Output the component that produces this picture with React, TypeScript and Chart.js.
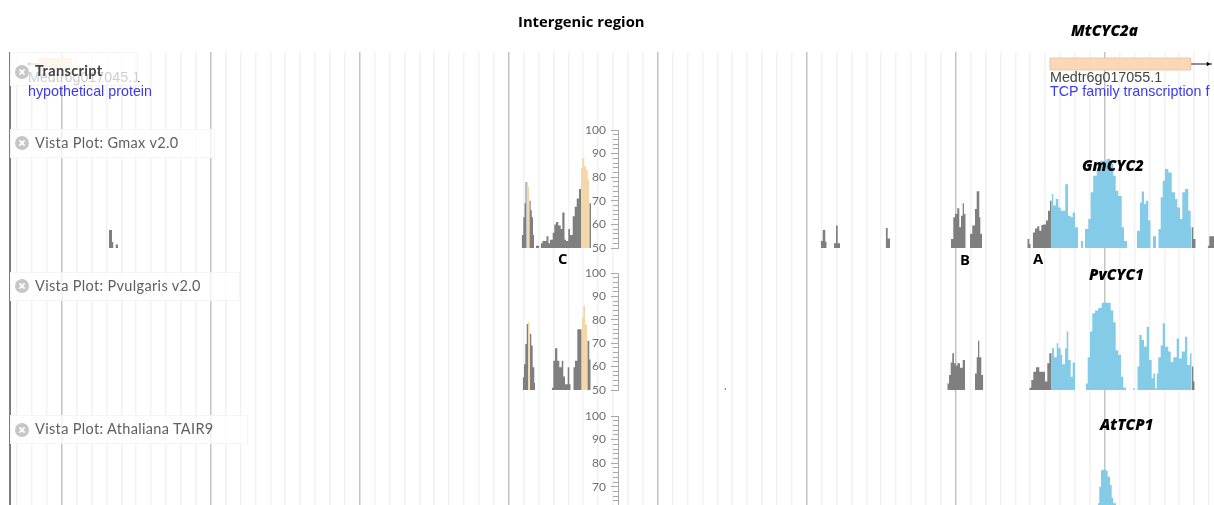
import React, { useEffect, useRef } from "react";
import { Chart, registerables, LinearScale } from "chart.js";

// ---------- data (alignment position, conservation %) ----------
// every run: x, value, x, value, ... , x of the run's end
const gmaxGrey: number[][] = [
  [109, 57.6, 112, 52.5, 113.5],
  [115.5, 51.5, 118],
  [521.7, 55.5, 523.3, 63, 524.5, 69, 525.5, 78, 526.7],
  [529.3, 70, 530.7, 66, 531.8, 63, 533, 55.5, 534],
  [536, 51, 539.3],
  [540.7, 52, 542.5, 53, 544.5, 53, 546.5, 55, 548.5, 52, 550, 53.5, 552.7, 56.5, 554.3, 60, 556, 61, 558.3, 59.5, 560.7, 58, 562.3, 65, 564.5, 53.5, 566, 53, 568.3, 58, 570, 55.5, 572.7, 63.5, 574.7, 67.5, 576.7, 71, 579, 75, 581],
  [589.3, 69, 591],
  [820.7, 53, 822.7, 57.6, 825.3, 52.7, 826.7],
  [834, 52, 836, 59.5, 837.7, 52, 840],
  [885.7, 58.5, 887.7, 54, 890],
  [951, 53.8, 953.3, 63, 955, 64.4, 957.3, 66.8, 959.3, 58.8, 961, 63.7, 962.7, 69, 964, 64.4, 965.7],
  [970, 56, 972.3, 59.5, 975, 66.5, 976.7, 74, 979.3, 63, 980.3, 56, 982],
  [1027.3, 53.8, 1029.3, 51.7, 1030.7],
  [1032.7, 56.6, 1035, 58.3, 1037.3, 59.2, 1039.3, 57.3, 1041.3, 59.7, 1043.3, 60, 1046, 61.6, 1048, 65.8, 1050, 70, 1051.7],
  [1191.7, 58.8, 1193.3, 53.8, 1195.7],
  [1207.7, 51, 1209.3, 55, 1214],
];
const gmaxPeach: number[][] = [
  [526.7, 78, 528, 76, 529.3],
  [581, 84, 582.3, 88, 584.3, 84.5, 586, 83, 587.7, 79, 589.3],
];
const gmaxBlue: number[][] = [
  [1051.7, 72.9, 1053.3, 68, 1055.7, 70.8, 1058.3, 67.2, 1060.7, 65.8, 1063.3, 65.8, 1065.3, 77, 1068, 63.7, 1070.7, 63, 1072.7, 65, 1075, 58.8, 1078],
  [1081, 53, 1083.3],
  [1085, 58, 1088.3, 62.3, 1090.7, 73.6, 1093.3, 80.6, 1096.7, 84, 1100, 87, 1106.7, 87.7, 1110, 85.6, 1113.3, 80.6, 1115.7, 74.3, 1118.3, 72, 1121.7, 58.8, 1124, 53, 1127.3],
  [1137, 57.3, 1140, 69.3, 1141.7, 73.9, 1144, 68.6, 1146, 70, 1148.3, 61.6, 1150.7],
  [1152.7, 55, 1156],
  [1158.3, 58, 1160.7, 71.5, 1162.7, 78.5, 1165, 83.5, 1168.3, 82, 1171.7, 73.6, 1175, 70.8, 1177.3, 67.2, 1180, 62.3, 1182.3, 73.6, 1185, 75, 1188.3, 65.8, 1190.7, 58.8, 1191.7],
];
const pvulGrey: number[][] = [
  [522.7, 55.4, 524, 61, 525.3, 69.7, 526.7, 78.2, 528],
  [529.7, 74, 531.3, 69, 532.7, 59.7, 534.3, 53, 535],
  [551.7, 51, 553.3, 62.5, 555, 67.8, 557.3, 62.5, 559.3, 59.7, 561.7, 62.5, 563.3, 55.8, 565, 52.5, 567.7, 59.7, 569.3, 52.5, 570.7],
  [573.3, 59.7, 575, 62.5, 577.3, 76, 581.7],
  [587.3, 71, 589.3, 63, 590.7],
  [724.5, 50.8, 726],
  [947.3, 52.8, 949, 56.4, 950.7, 61.8, 952.3, 65.7, 954, 61.4, 955.7, 60.4, 957.3, 61.4, 960, 59.5, 962.7, 62.8, 965],
  [975, 57, 976.7, 64, 978, 71, 979.3, 64, 981.3, 56.4, 983.3],
  [1029.3, 51, 1031.3, 54.3, 1033.3, 57.8, 1036, 59.7, 1039.3, 57.8, 1045, 53.6, 1047.3, 61.4, 1049.3, 65.7, 1051.7],
  [1191.7, 60, 1193.3, 53.6, 1194.7],
];
const pvulPeach: number[][] = [
  [528, 79, 529.7],
  [581.7, 81, 583.3, 86, 585, 78, 587.3],
];
const pvulBlue: number[][] = [
  [1051.7, 67.8, 1054, 64, 1056.7, 70, 1058.3, 67.8, 1060.7, 65, 1062.3, 61, 1065, 67.8, 1066.7, 75, 1068.3, 62.8, 1070.7, 55.7, 1072.7, 61.8, 1075.3],
  [1085.7, 52.8, 1087.7, 64, 1090, 75, 1092.3, 82.8, 1095, 84, 1098.3, 85, 1101.7, 87.3, 1110.7, 84, 1113.3, 79, 1115.7, 67, 1118.3, 65, 1121, 55.7, 1123.3, 51, 1126],
  [1132.7, 50.7, 1134.7],
  [1137.3, 60, 1139.3, 73.5, 1141.7, 71.4, 1144, 68.5, 1146.7, 77, 1149, 62.8, 1151.7, 55, 1153.3, 57, 1155, 50.7, 1156.7, 57, 1158.3, 64, 1160.7, 69, 1162.7, 78.5, 1165, 68.5, 1168.3, 66.4, 1170.7, 62, 1173.3, 64, 1176.7, 72, 1179, 63.5, 1181.7, 66.4, 1185, 72.8, 1187.3, 60.7, 1190, 65.7, 1191.7],
];
const athaBlue: number[][] = [
  [1097.7, 63, 1099.3, 70, 1101, 77, 1103.3, 77.4, 1105.7, 76.8, 1107.7, 74.3, 1110, 70.8, 1111.7, 65.3, 1113.3, 63, 1116],
];
// gene models: start, end on the transcript track
const genePrev = [38, 72];
const geneCyc2 = [1050, 1190.6];
const geneArrowPrev = [38, 29];
const geneArrowCyc2 = [1191, 1208, 1212];

const conservationMin = 50;
const conservationMax = 100;

// text
const titleText = "Intergenic region";
const panelLabels = ["Vista Plot: Gmax v2.0", "Vista Plot: Pvulgaris v2.0", "Vista Plot: Athaliana TAIR9"];
const geneLabels = ["MtCYC2a", "GmCYC2", "PvCYC1", "AtTCP1"];
const regionLabels = ["A", "B", "C"];

// ---------- helpers ----------
const toPoints = (runs: number[][]) => {
  const out: { x: number; y: number | null }[] = [];
  for (const r of runs) {
    let last = 0;
    for (let i = 0; i + 1 < r.length; i += 2) {
      out.push({ x: r[i], y: r[i + 1] });
      last = r[i + 1];
    }
    const end = r[r.length - 1];
    out.push({ x: end, y: last });
    out.push({ x: end, y: null });
  }
  return out;
};

class PanelScale extends (LinearScale as any) {
  static id = "panel";
  static defaults = (LinearScale as any).defaults;
  configure() {
    const o = (this as any).options;
    const self = this as any;
    self.top = o.panelTop;
    self.bottom = o.panelBottom;
    self.height = o.panelBottom - o.panelTop;
    self.right = o.panelRight;
    self.left = o.panelRight - 40;
    self.width = 40;
    super.configure();
  }
}

Chart.register(...registerables, PanelScale as any);

const GREY = "#7f7f7f";
const PEACH = "#f3d7aa";
const BLUE = "#84cbe8";
const AXIS = "#a9a9a9";

const noRoom = (s: any) => {
  s.width = 0;
  s.paddingTop = 0;
  s.paddingBottom = 0;
};

const fillSeries = (data: any[], color: string, yAxisID: string) => ({
  type: "line",
  data,
  yAxisID,
  xAxisID: "x",
  stepped: true,
  spanGaps: false,
  borderWidth: 0,
  pointRadius: 0,
  backgroundColor: color,
  borderColor: color,
  fill: { value: conservationMin },
});

const majorAxis = (panelTop: number, panelBottom: number) => ({
  type: "panel",
  position: "left",
  panelTop,
  panelBottom,
  panelRight: 618,
  min: conservationMin,
  max: conservationMax,
  afterFit: noRoom,
  grid: { drawOnChartArea: false, tickLength: 7, color: AXIS, tickColor: AXIS, lineWidth: 1 },
  border: { color: AXIS, width: 1 },
  ticks: { stepSize: 10, autoSkip: false, color: "#6f6f6f", padding: 5, font: { family: "Lato", size: 12 } },
});
const minorAxis = (panelTop: number, panelBottom: number) => ({
  type: "panel",
  position: "left",
  panelTop,
  panelBottom,
  panelRight: 618,
  min: conservationMin,
  max: conservationMax,
  afterFit: noRoom,
  grid: { drawOnChartArea: false, tickLength: 5, color: AXIS, tickColor: AXIS, lineWidth: 1 },
  border: { display: false },
  ticks: { stepSize: 2, autoSkip: false, callback: () => "", padding: 0, font: { size: 1 } },
});

const Txt = (p: { x: number; y: number; s: React.CSSProperties; children: React.ReactNode }) => (
  <div style={{ position: "absolute", left: p.x, top: p.y, whiteSpace: "nowrap", lineHeight: "18px", zIndex: 3, ...p.s }}>{p.children}</div>
);

const Close = ({ x, y }: { x: number; y: number }) => (
  <svg width="14" height="14" style={{ position: "absolute", left: x, top: y, zIndex: 3 }}>
    <circle cx="7" cy="7" r="7" fill="#c6c6c6" />
    <path d="M4.4 4.4 L9.6 9.6 M9.6 4.4 L4.4 9.6" stroke="#fff" strokeWidth="1.8" />
  </svg>
);

const Box = ({ x, y, w, h }: { x: number; y: number; w: number; h: number }) => (
  <div style={{ position: "absolute", left: x, top: y, width: w, height: h, boxSizing: "border-box", background: "rgba(255,255,255,0.74)", border: "1px solid #f5f5f5", zIndex: 2 }} />
);

const panelText: React.CSSProperties = { fontFamily: "Lato", fontSize: 14.5, color: "#5f5f5f", letterSpacing: "0.34px" };
const arial: React.CSSProperties = { fontFamily: "'Liberation Sans'", fontSize: 14.3 };
const geneName: React.CSSProperties = { fontFamily: "'Open Sans'", fontSize: 15.2, fontWeight: 800, fontStyle: "italic", color: "#000" };
const mark: React.CSSProperties = { fontFamily: "'Open Sans'", fontSize: 14.8, fontWeight: 700, color: "#000" };

export default function App() {
  const ref = useRef<HTMLCanvasElement>(null);
  useEffect(() => {
    document.body.style.margin = "0";
    const gridPositions: number[] = [];
    for (let i = 0; i < 81; i++) gridPositions.push(17 + i * 14.9);
    const edge = 9.5;
    const chart = new Chart(ref.current as HTMLCanvasElement, {
      type: "line",
      data: {
        datasets: [
          fillSeries(toPoints(gmaxGrey), GREY, "y1"),
          fillSeries(toPoints(gmaxPeach), PEACH, "y1"),
          fillSeries(toPoints(gmaxBlue), BLUE, "y1"),
          fillSeries(toPoints(pvulGrey), GREY, "y2"),
          fillSeries(toPoints(pvulPeach), PEACH, "y2"),
          fillSeries(toPoints(pvulBlue), BLUE, "y2"),
          fillSeries(toPoints(athaBlue), BLUE, "y3"),
          {
            type: "line", yAxisID: "track", xAxisID: "x", fill: "shape", pointRadius: 0, borderWidth: 1,
            backgroundColor: "#fbd7b9", borderColor: "#efc7a5",
            data: [
              { x: geneCyc2[0], y: 6 }, { x: geneCyc2[1], y: 6 }, { x: geneCyc2[1], y: 18 }, { x: geneCyc2[0], y: 18 }, { x: geneCyc2[0], y: 6 },
            ],
          },
          {
            type: "line", yAxisID: "track", xAxisID: "x", fill: "shape", pointRadius: 0, borderWidth: 0,
            backgroundColor: "#fbd7b9",
            data: [
              { x: genePrev[0], y: 6 }, { x: genePrev[1], y: 6 }, { x: genePrev[1], y: 18 }, { x: genePrev[0], y: 18 }, { x: genePrev[0], y: 6 },
            ],
          },
          {
            type: "line", yAxisID: "track", xAxisID: "x", fill: false, borderWidth: 1, borderColor: "#222", backgroundColor: "#000",
            pointStyle: "triangle", pointRotation: 90,
            pointRadius: (c: any) => (c.dataIndex === 1 ? 2.5 : 0), pointBorderWidth: 0,
            data: geneArrowCyc2.map((x) => ({ x, y: 12 })),
          },
          {
            type: "line", yAxisID: "track", xAxisID: "x", fill: false, borderWidth: 1, borderColor: "#777", backgroundColor: "#777",
            pointStyle: "triangle", pointRotation: -90,
            pointRadius: (c: any) => (c.dataIndex === 1 ? 2.5 : 0), pointBorderWidth: 0,
            data: geneArrowPrev.map((x) => ({ x, y: 12 })),
          },
        ] as any,
      },
      options: {
        animation: false,
        responsive: false,
        layout: { autoPadding: false, padding: { top: 52, left: 0, right: 0, bottom: 0 } },
        plugins: { legend: { display: false }, tooltip: { enabled: false } },
        elements: { line: { tension: 0 } },
        scales: {
          x: {
            type: "linear",
            min: 0,
            max: 1214,
            afterBuildTicks: (s: any) => {
              s.ticks = [{ value: edge, major: true }, ...gridPositions.map((value, i) => ({ value, major: i % 10 === 3 }))];
            },
            afterFit: (s: any) => { s.height = 0; },
            ticks: { display: false, autoSkip: false },
            border: { display: false },
            grid: {
              drawTicks: false,
              color: (c: any) => (c.tick?.value === edge ? "#7d7d7d" : c.tick?.major ? "#c4c4c4" : "#f2f2f2"),
              lineWidth: (c: any) => (c.tick?.value === edge ? 2 : 1.5),
            },
          },
          track: { type: "panel", display: false, reverse: true, panelTop: 52, panelBottom: 88, panelRight: 0, min: 0, max: 36 },
          y1: majorAxis(130, 248),
          y1m: minorAxis(130, 248),
          y2: majorAxis(273, 390),
          y2m: minorAxis(273, 390),
          y3: majorAxis(416, 534),
          y3m: minorAxis(416, 534),
        } as any,
      },
    } as any);
    return () => chart.destroy();
  }, []);

  return (
    <div style={{ position: "absolute", left: 0, top: 0, width: 1214, height: 505, overflow: "hidden", background: "#fff", filter: "blur(0.4px)" }}>
      <canvas ref={ref} width={1214} height={505} style={{ position: "absolute", left: 0, top: 0, display: "block" }} />

      <Txt x={28} y={68} s={{ ...arial, color: "#444", zIndex: 1 }}>Medtr6g017045.1</Txt>
      <Box x={10} y={52} w={128} h={34} />
      <Close x={15} y={65} />
      <Txt x={35} y={62} s={{ ...panelText, color: "#444", fontWeight: 700, fontSize: 14.5, letterSpacing: "0.35px" }}>Transcript</Txt>
      <Txt x={28} y={82} s={{ ...arial, color: "#3a3af0" }}>hypothetical protein</Txt>
      <Txt x={1050} y={68} s={{ ...arial, color: "#444" }}>Medtr6g017055.1</Txt>
      <Txt x={1050} y={82} s={{ ...arial, color: "#3a3af0" }}>TCP family transcription f</Txt>

      <Box x={10} y={129} w={205} h={29} />
      <Close x={15} y={136} />
      <Txt x={35} y={134} s={panelText}>{panelLabels[0]}</Txt>
      <Box x={10} y={272} w={230} h={29} />
      <Close x={15} y={279} />
      <Txt x={35} y={277} s={panelText}>{panelLabels[1]}</Txt>
      <Box x={10} y={415} w={238} h={29} />
      <Close x={15} y={423} />
      <Txt x={35} y={420} s={panelText}>{panelLabels[2]}</Txt>

      <Txt x={518} y={12} s={{ ...mark }}>{titleText}</Txt>
      <Txt x={1071} y={21} s={geneName}>{geneLabels[0]}</Txt>
      <Txt x={1082} y={156} s={geneName}>{geneLabels[1]}</Txt>
      <Txt x={1089} y={265} s={geneName}>{geneLabels[2]}</Txt>
      <Txt x={1100} y={415} s={geneName}>{geneLabels[3]}</Txt>
      <Txt x={1033} y={249} s={mark}>{regionLabels[0]}</Txt>
      <Txt x={960} y={250} s={mark}>{regionLabels[1]}</Txt>
      <Txt x={558} y={249} s={mark}>{regionLabels[2]}</Txt>
    </div>
  );
}
